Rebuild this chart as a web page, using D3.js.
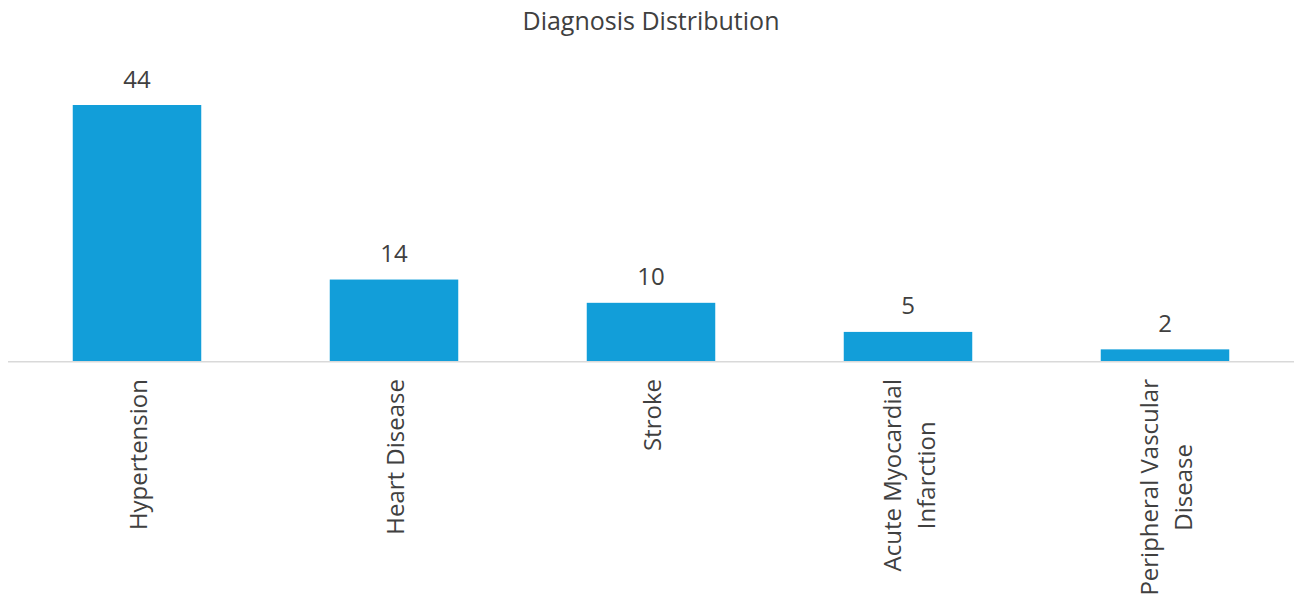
<!DOCTYPE html>
<html><head><meta charset="utf-8">
<script src="https://cdn.jsdelivr.net/npm/d3@7"></script>
<style>body{margin:0;background:#fff}</style>
</head><body>
<svg id="chart" width="1294" height="602"></svg>
<script>
const categories = ["Hypertension", "Heart Disease", "Stroke", "Acute Myocardial Infarction", "Peripheral Vascular Disease"];
const labelLines = [["Hypertension"], ["Heart Disease"], ["Stroke"], ["Acute Myocardial", "Infarction"], ["Peripheral Vascular", "Disease"]];
const values = [44, 14, 10, 5, 2];
const title = "Diagnosis Distribution";

const font = "'Open Sans', sans-serif";
const textColor = "#404040";
const svg = d3.select("#chart");
const baseY = 361;
const x = d3.scaleBand().domain(categories).range([8.5, 1293.5]).paddingInner(0.5).paddingOuter(0.25);
const y = d3.scaleLinear().domain([0, 44]).range([baseY, 105]);

svg.append("text").attr("x", 651).attr("y", 20).attr("text-anchor", "middle")
  .attr("dominant-baseline", "central").attr("font-family", font).attr("font-size", 25)
  .attr("fill", textColor).text(title);

svg.selectAll("rect.bar").data(values).join("rect").attr("class", "bar")
  .attr("x", (d, i) => x(categories[i])).attr("width", x.bandwidth())
  .attr("y", d => y(d)).attr("height", d => baseY - y(d)).attr("fill", "#129ed9");

svg.append("line").attr("x1", 8).attr("x2", 1294).attr("y1", baseY + 0.8).attr("y2", baseY + 0.8)
  .attr("stroke", "#d9d9d9").attr("stroke-width", 1.6);

svg.selectAll("text.val").data(values).join("text").attr("class", "val")
  .attr("x", (d, i) => x(categories[i]) + x.bandwidth() / 2).attr("y", d => y(d) - 27)
  .attr("text-anchor", "middle").attr("dominant-baseline", "central")
  .attr("font-family", font).attr("font-size", 24).attr("fill", textColor).text(d => d);

const lineH = 34;
categories.forEach((c, i) => {
  const lines = labelLines[i];
  const cx = x(c) + x.bandwidth() / 2;
  const t = svg.append("text")
    .attr("transform", `translate(${cx},379) rotate(-90)`)
    .attr("text-anchor", "middle").attr("font-family", font).attr("font-size", 24).attr("fill", textColor);
  const spans = lines.map((ln, j) => t.append("tspan")
    .attr("y", (j - (lines.length - 1) / 2) * lineH)
    .attr("dominant-baseline", "central").text(ln));
  const maxW = d3.max(spans, s => s.node().getComputedTextLength());
  spans.forEach(s => s.attr("x", -maxW / 2));
});
</script>
</body></html>
